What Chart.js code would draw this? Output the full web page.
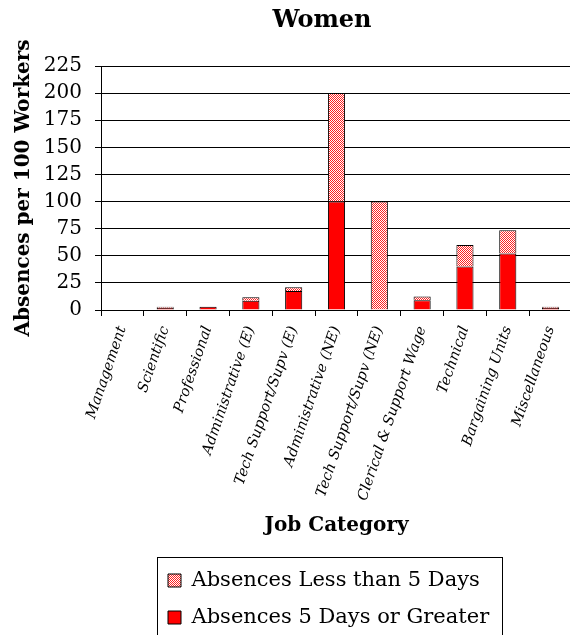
<!DOCTYPE html>
<html>
<head>
<meta charset="utf-8">
<script src="https://cdn.jsdelivr.net/npm/chart.js@4/dist/chart.umd.min.js"></script>
<style>
  html, body { margin: 0; padding: 0; background: #fff; overflow: hidden; }
  #wrap { width: 570px; height: 635px; overflow: hidden; }
</style>
</head>
<body>
<div id="wrap"><canvas id="absenceChart" width="580" height="638"></canvas></div>
<script>
var categories = ["Management", "Scientific", "Professional", "Administrative (E)",
    "Tech Support/Supv (E)", "Administrative (NE)", "Tech Support/Supv (NE)",
    "Clerical & Support Wage", "Technical", "Bargaining Units", "Miscellaneous"];
var fiveDaysOrMore = [0, 2, 3, 8.5, 17.5, 100, 0, 9, 40, 52, 2];
var underFiveDays = [0, 1, 0, 3.2, 3.4, 100, 100, 3.5, 20, 21.5, 1];
var yTicks = [0, 25, 50, 75, 100, 125, 150, 175, 200, 225];

// small red/white dither used for the "less than 5 days" segments
function hatch() {
    var c = document.createElement("canvas");
    c.width = 4; c.height = 4;
    var g = c.getContext("2d");
    g.fillStyle = "#fff";
    g.fillRect(0, 0, 4, 4);
    g.fillStyle = "#ff2020";
    for (var y = 0; y < 4; y++) {
        for (var x = 0; x < 4; x++) {
            if ((x + y) % 2 === 0) g.fillRect(x, y, 1, 1);
        }
    }
    return g.createPattern(c, "repeat");
}

Chart.defaults.font.family = "'DejaVu Serif', serif";
Chart.defaults.color = "#000";

// title sits a little right of the canvas middle, legend rows start at a fixed x
var shiftBlocks = {
    id: "shiftBlocks",
    afterLayout: function(chart) {
        chart.titleBlock.left += 36;
        chart.titleBlock.right += 36;
        chart.legend.left = 152;
    },
    afterDraw: function(chart) {
        var lg = chart.legend;
        var boxes = lg.legendHitBoxes;
        if (!boxes || !boxes.length) return;
        var x0 = Infinity, x1 = -Infinity;
        boxes.forEach(function(b) {
            x0 = Math.min(x0, b.left);
            x1 = Math.max(x1, b.left + b.width);
        });
        var ctx = chart.ctx;
        ctx.save();
        ctx.strokeStyle = "#000";
        ctx.lineWidth = 1;
        ctx.strokeRect(Math.round(x0 - 11) + 0.5, Math.round(lg.top + 3) + 0.5,
            Math.round(x1 - x0 + 24), lg.height + 20);
        ctx.restore();
    }
};

var ctx = document.getElementById("absenceChart");
var barChart = new Chart(ctx, {
    type: "bar",
    data: {
        labels: categories,
        datasets: [{
            label: "Absences 5 Days or Greater",
            data: fiveDaysOrMore,
            backgroundColor: "#ff0000",
            borderColor: "#000",
            borderWidth: 1
        }, {
            label: "Absences Less than 5 Days",
            data: underFiveDays,
            backgroundColor: hatch(),
            borderColor: "#000",
            borderWidth: 1
        }]
    },
    options: {
        responsive: false,
        animation: false,
        layout: { padding: { right: 8, left: 0, top: 0, bottom: 0 } },
        datasets: { bar: { categoryPercentage: 1, barPercentage: 0.4 } },
        plugins: {
            title: {
                display: true,
                text: "Women",
                font: { size: 24, weight: "bold" },
                padding: { top: 6, bottom: 31.2 }
            },
            legend: {
                position: "bottom",
                align: "start",
                reverse: true,
                maxWidth: 400,
                labels: {
                    boxWidth: 13,
                    boxHeight: 13,
                    padding: 16,
                    font: { size: 21 }
                }
            },
            tooltip: { enabled: false }
        },
        scales: {
            x: {
                stacked: true,
                afterFit: function(scale) { scale.height = 244; },
                grid: {
                    drawOnChartArea: false,
                    drawTicks: true,
                    tickLength: 6,
                    color: "#000",
                    offset: true
                },
                border: { color: "#000" },
                ticks: {
                    autoSkip: false,
                    minRotation: 71,
                    maxRotation: 71,
                    padding: 8,
                    font: { size: 14.5, style: "italic" }
                },
                title: {
                    display: true,
                    text: "Job Category",
                    font: { size: 20, weight: "bold" },
                    padding: { top: 0, bottom: 16 }
                }
            },
            y: {
                stacked: true,
                min: 0,
                max: 225,
                afterFit: function(scale) { scale.width = 101; },
                afterBuildTicks: function(scale) {
                    scale.ticks = yTicks.map(function(v) { return { value: v }; });
                },
                grid: { color: "#000", tickLength: 6 },
                border: { color: "#000" },
                ticks: { padding: 13, font: { size: 20 } },
                title: {
                    display: true,
                    text: "Absences per 100 Workers",
                    font: { size: 20, weight: "bold" },
                    padding: { top: 12, bottom: 0 }
                }
            }
        }
    },
    plugins: [shiftBlocks]
});
</script>
</body>
</html>
